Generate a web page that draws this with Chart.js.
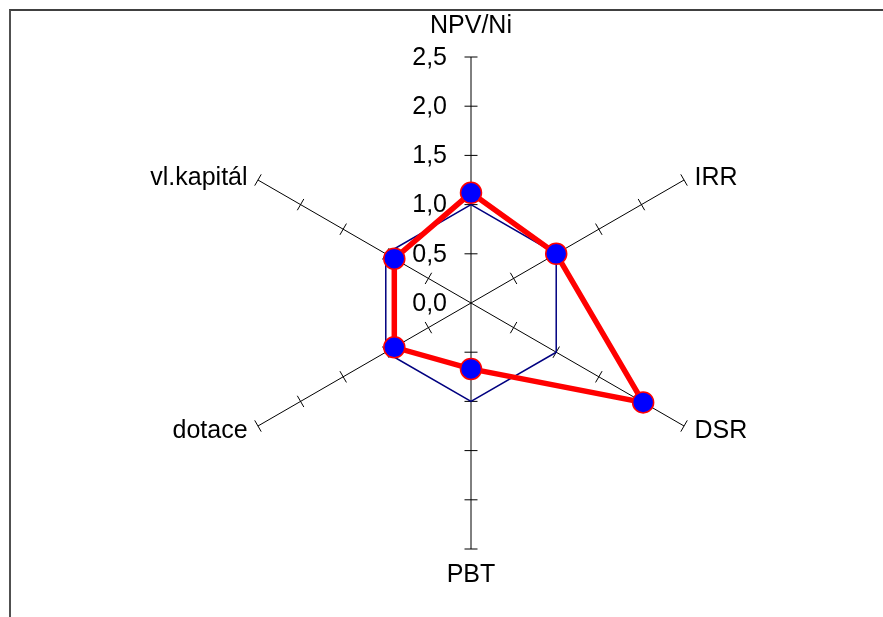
<!DOCTYPE html>
<html>
<head>
<meta charset="utf-8">
<script src="https://cdn.jsdelivr.net/npm/chart.js@4"></script>
<style>
  html, body { margin: 0; padding: 0; background: #ffffff; }
  #wrap { position: relative; width: 883px; height: 617px; overflow: hidden; background: #ffffff; }
  #c { position: absolute; left: 0; top: 0; }
  #frame { position: absolute; left: 9px; top: 9px; right: -10px; bottom: -10px;
           border-top: 2px solid #404040; border-left: 2px solid #505050; pointer-events: none; }
</style>
</head>
<body>
<div id="wrap">
  <canvas id="c" width="883" height="617"></canvas>
  <div id="frame"></div>
</div>
<script>
// ---- data ----
const categories = ['NPV/Ni', 'IRR', 'DSR', 'PBT', 'dotace', 'vl.kapitál'];
const projectValues = [1.12, 1.0, 2.02, 0.67, 0.9, 0.9];
const referenceValues = [1, 1, 1, 1, 1, 1];
const tickValues = [0, 0.5, 1.0, 1.5, 2.0, 2.5];
const tickLabels = ['0,0', '0,5', '1,0', '1,5', '2,0', '2,5'];

const FONT = '"Liberation Sans", Arial, Helvetica, sans-serif';

const axisDecor = {
  id: 'axisDecor',
  beforeDatasetsDraw(chart) {
    const s = chart.scales.r;
    const ctx = chart.ctx;
    const n = chart.data.labels.length;
    ctx.save();
    // tick marks on each axis
    ctx.strokeStyle = '#000000';
    ctx.lineWidth = 1;
    for (let i = 0; i < n; i++) {
      const ang = s.getIndexAngle(i) - Math.PI / 2;
      const px = -Math.sin(ang), py = Math.cos(ang);
      tickValues.forEach(v => {
        if (v === 0) return;
        const p = s.getPointPositionForValue(i, v);
        ctx.beginPath();
        ctx.moveTo(p.x - px * 6.5, p.y - py * 6.5);
        ctx.lineTo(p.x + px * 6.5, p.y + py * 6.5);
        ctx.stroke();
      });
    }
    // tick labels on the first axis
    ctx.fillStyle = '#000000';
    ctx.font = '25px ' + FONT;
    ctx.textAlign = 'right';
    ctx.textBaseline = 'middle';
    tickValues.forEach((v, k) => {
      const p = s.getPointPositionForValue(0, v);
      ctx.fillText(tickLabels[k], p.x - 24, p.y + 1);
    });
    // category labels
    for (let i = 0; i < n; i++) {
      const ang = s.getIndexAngle(i) * 180 / Math.PI;
      let p, align;
      if (Math.abs(ang) < 1) {
        p = s.getPointPosition(i, s.drawingArea + 31); align = 'center';
      } else if (Math.abs(ang - 180) < 1) {
        p = s.getPointPosition(i, s.drawingArea + 26); align = 'center';
      } else {
        p = s.getPointPosition(i, s.drawingArea + 12);
        align = ang < 180 ? 'left' : 'right';
        const dy = (ang < 90 || ang > 270) ? 4 : -1;
        p = { x: p.x, y: p.y + dy };
      }
      ctx.textAlign = align;
      ctx.fillText(chart.data.labels[i], p.x, p.y);
    }
    ctx.restore();
  }
};

new Chart(document.getElementById('c'), {
  type: 'radar',
  data: {
    labels: categories,
    datasets: [
      {
        label: 'Projekt',
        data: projectValues,
        borderColor: '#ff0000',
        borderWidth: 5.5,
        fill: false,
        tension: 0,
        pointRadius: 10.5,
        pointBackgroundColor: '#0000ff',
        pointBorderColor: '#ff0000',
        pointBorderWidth: 1.5
      },
      {
        label: 'Reference',
        data: referenceValues,
        borderColor: '#000080',
        borderWidth: 1.5,
        fill: false,
        tension: 0,
        pointRadius: 0
      }
    ]
  },
  plugins: [axisDecor],
  options: {
    responsive: false,
    animation: false,
    devicePixelRatio: 1,
    layout: { padding: { top: 57, bottom: 68, left: 59, right: 0 } },
    plugins: { legend: { display: false }, tooltip: { enabled: false } },
    scales: {
      r: {
        min: 0,
        max: 2.5,
        ticks: { display: false, stepSize: 0.5 },
        grid: { display: false },
        angleLines: { display: true, color: '#000000', lineWidth: 1 },
        pointLabels: { display: false }
      }
    }
  }
});
</script>
</body>
</html>
